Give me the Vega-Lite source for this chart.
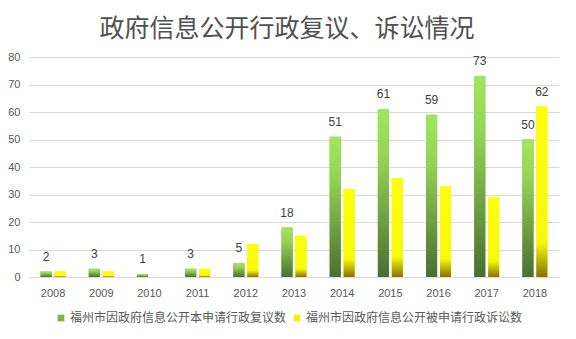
{
  "$schema": "https://vega.github.io/schema/vega-lite/v6.json",
  "autosize": {"type": "none"},
  "width": 530,
  "height": 220,
  "padding": {"left": 29, "top": 57, "right": 17, "bottom": 62},
  "background": "white",
  "title": {
    "text": "政府信息公开行政复议、诉讼情况",
    "font": "Noto Sans CJK SC",
    "fontSize": 25,
    "fontWeight": "normal",
    "color": "#505050",
    "anchor": "middle",
    "baseline": "bottom",
    "offset": 16,
    "dx": -7,
    "dy": 32
  },
  "data": {
    "values": [
      {"year": "2008", "series": "福州市因政府信息公开本申请行政复议数", "value": 2},
      {"year": "2009", "series": "福州市因政府信息公开本申请行政复议数", "value": 3},
      {"year": "2010", "series": "福州市因政府信息公开本申请行政复议数", "value": 1},
      {"year": "2011", "series": "福州市因政府信息公开本申请行政复议数", "value": 3},
      {"year": "2012", "series": "福州市因政府信息公开本申请行政复议数", "value": 5},
      {"year": "2013", "series": "福州市因政府信息公开本申请行政复议数", "value": 18},
      {"year": "2014", "series": "福州市因政府信息公开本申请行政复议数", "value": 51},
      {"year": "2015", "series": "福州市因政府信息公开本申请行政复议数", "value": 61},
      {"year": "2016", "series": "福州市因政府信息公开本申请行政复议数", "value": 59},
      {"year": "2017", "series": "福州市因政府信息公开本申请行政复议数", "value": 73},
      {"year": "2018", "series": "福州市因政府信息公开本申请行政复议数", "value": 50},
      {"year": "2008", "series": "福州市因政府信息公开被申请行政诉讼数", "value": 2},
      {"year": "2009", "series": "福州市因政府信息公开被申请行政诉讼数", "value": 2},
      {"year": "2010", "series": "福州市因政府信息公开被申请行政诉讼数", "value": 0},
      {"year": "2011", "series": "福州市因政府信息公开被申请行政诉讼数", "value": 3},
      {"year": "2012", "series": "福州市因政府信息公开被申请行政诉讼数", "value": 12},
      {"year": "2013", "series": "福州市因政府信息公开被申请行政诉讼数", "value": 15},
      {"year": "2014", "series": "福州市因政府信息公开被申请行政诉讼数", "value": 32},
      {"year": "2015", "series": "福州市因政府信息公开被申请行政诉讼数", "value": 36},
      {"year": "2016", "series": "福州市因政府信息公开被申请行政诉讼数", "value": 33},
      {"year": "2017", "series": "福州市因政府信息公开被申请行政诉讼数", "value": 29},
      {"year": "2018", "series": "福州市因政府信息公开被申请行政诉讼数", "value": 62}
    ]
  },
  "encoding": {
    "x": {
      "field": "year",
      "type": "nominal",
      "scale": {"paddingInner": 0.48, "paddingOuter": 0.24},
      "axis": {
        "title": null,
        "labelAngle": 0,
        "ticks": false,
        "domainColor": "#d9d9d9",
        "labelPadding": 10,
        "labelFont": "Liberation Sans",
        "labelFontSize": 11,
        "labelColor": "#595959"
      }
    },
    "xOffset": {
      "field": "series",
      "type": "nominal",
      "scale": {"paddingInner": 0.2, "paddingOuter": 0}
    },
    "y": {
      "field": "value",
      "type": "quantitative",
      "scale": {"domain": [0, 80], "nice": false},
      "axis": {
        "title": null,
        "values": [0, 10, 20, 30, 40, 50, 60, 70, 80],
        "domain": false,
        "ticks": false,
        "gridColor": "#d9d9d9",
        "labelPadding": 9,
        "labelFont": "Liberation Sans",
        "labelFontSize": 11,
        "labelColor": "#595959"
      }
    }
  },
  "layer": [
    {
      "mark": {"type": "bar"},
      "encoding": {
        "color": {
          "field": "series",
          "type": "nominal",
          "scale": {
            "domain": ["福州市因政府信息公开本申请行政复议数", "福州市因政府信息公开被申请行政诉讼数"],
            "range": ["#7fb446", "#f5f00a"]
          },
          "legend": {
            "title": null,
            "orient": "none",
            "direction": "horizontal",
            "legendX": 26,
            "legendY": 255,
            "symbolType": "square",
            "symbolSize": 45,
            "symbolStrokeWidth": 0,
            "symbolOpacity": 1,
            "labelFont": "Noto Sans CJK SC",
            "labelFontSize": 12,
            "labelColor": "#595959",
            "labelLimit": 0,
            "columnPadding": 4,
            "labelOffset": 3
          }
        }
      }
    },
    {
      "transform": [{"filter": "datum.series == '福州市因政府信息公开本申请行政复议数'"}],
      "mark": {
        "type": "bar",
        "color": {"gradient": "linear", "x1": 0, "y1": 0, "x2": 0, "y2": 1, "stops": [
          {"offset": 0, "color": "#a3e65c"},
          {"offset": 0.3, "color": "#94d255"},
          {"offset": 1, "color": "#4b6e2f"}
        ]}
      }
    },
    {
      "transform": [{"filter": "datum.series == '福州市因政府信息公开被申请行政诉讼数'"}],
      "mark": {
        "type": "bar",
        "color": {"gradient": "linear", "x1": 0, "y1": 0, "x2": 0, "y2": 1, "stops": [
          {"offset": 0, "color": "#ffff0a"},
          {"offset": 0.8, "color": "#f8f80a"},
          {"offset": 1, "color": "#847400"}
        ]}
      }
    },
    {
      "transform": [
        {"filter": "datum.series == '福州市因政府信息公开本申请行政复议数' || datum.year == '2018'"}
      ],
      "mark": {
        "type": "text",
        "baseline": "middle",
        "dy": -15,
        "font": "Liberation Sans",
        "fontSize": 12,
        "color": "#404040"
      },
      "encoding": {
        "text": {"field": "value", "type": "quantitative"}
      }
    }
  ],
  "config": {
    "view": {"stroke": null}
  }
}
